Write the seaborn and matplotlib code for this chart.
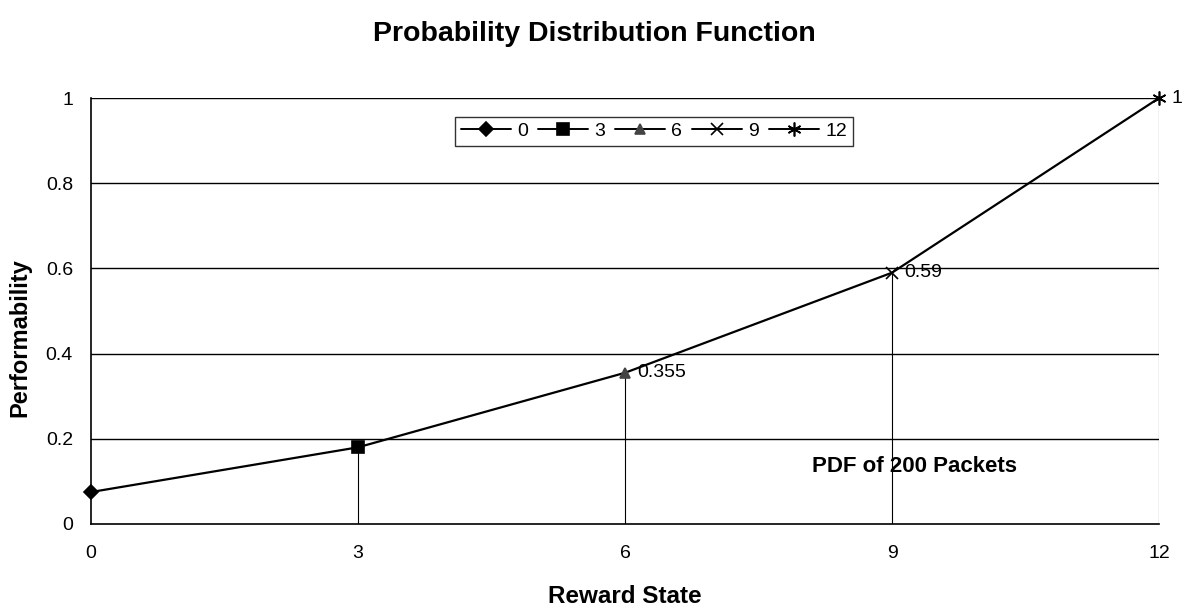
import matplotlib
matplotlib.use("Agg")
import matplotlib.pyplot as plt
import seaborn as sns
import pandas as pd
from matplotlib.lines import Line2D

reward_states = [0, 3, 6, 9, 12]
performability = [0.075, 0.18, 0.355, 0.59, 1.0]
series_labels = ["0", "3", "6", "9", "12"]
point_labels = {6: "0.355", 9: "0.59", 12: "1"}
y_ticks = [0, 0.2, 0.4, 0.6, 0.8, 1.0]
y_tick_labels = ["0", "0.2", "0.4", "0.6", "0.8", "1"]
x_ticks = [0, 3, 6, 9, 12]

sns.set_theme(style="white")
plt.rcParams['font.family'] = ['Liberation Sans', 'DejaVu Sans']
plt.rcParams['text.color'] = 'black'
plt.rcParams['axes.labelcolor'] = 'black'
plt.rcParams['xtick.color'] = 'black'
plt.rcParams['ytick.color'] = 'black'

df = pd.DataFrame({"x": reward_states, "y": performability, "series": series_labels})

fig = plt.figure(figsize=(11.88, 6.12), dpi=100)
ax = fig.add_axes([0.0766, 0.1438, 0.899, 0.696])

for yt in y_ticks[1:]:
    ax.axhline(yt, color="black", lw=1.0, zorder=0)

# drop lines
for x, y in zip(reward_states[1:], performability[1:]):
    ax.plot([x, x], [0, y], color="black", lw=0.8, zorder=1)

sns.lineplot(data=df, x="x", y="y", color="black", lw=1.6, ax=ax, zorder=2, legend=False)

markers = {"0": "D", "3": "s", "6": "^", "9": "x", "12": (6, 2, 0)}
sizes = {"0": 7, "3": 8, "6": 7, "9": 9, "12": 10}
colors = {"0": "black", "3": "black", "6": "#444444", "9": "black", "12": "black"}
handles = []
for s, x, y in zip(series_labels, reward_states, performability):
    ax.plot([x], [y], marker=markers[s], ms=sizes[s], color=colors[s],
            mew=1.2, ls="none", zorder=3, clip_on=False)
    handles.append(Line2D([0], [0], color="black", lw=1.4, marker=markers[s],
                          ms=sizes[s], mew=1.2, markerfacecolor=colors[s],
                          markeredgecolor=colors[s], label=s))

for x, y in zip(reward_states, performability):
    if x in point_labels:
        ax.annotate(point_labels[x], (x, y), xytext=(9, 0), textcoords="offset points",
                    va="center", ha="left", fontsize=14)

ax.text(8.1, 0.136, "PDF of 200 Packets", fontsize=16, fontweight="bold", va="center")

ax.set_xlim(0, 12)
ax.set_ylim(0, 1)
ax.set_xticks(x_ticks)
ax.set_xticklabels([str(v) for v in x_ticks], fontsize=14)
ax.set_yticks(y_ticks)
ax.set_yticklabels(y_tick_labels, fontsize=14)
ax.tick_params(axis="both", direction="out", length=5, width=1, colors="black", pad=8)
ax.tick_params(axis="x", pad=10)
for sp in ["top", "right"]:
    ax.spines[sp].set_visible(False)
for sp in ["left", "bottom"]:
    ax.spines[sp].set_color("black")
    ax.spines[sp].set_linewidth(1.2)
ax.set_xlabel("Reward State", fontsize=17.5, fontweight="bold", va="center")
ax.xaxis.set_label_coords(0.5, -0.17)
ax.set_ylabel("Performability", fontsize=17, fontweight="bold", va="center")
ax.yaxis.set_label_coords(-0.067, 0.437)
fig.text(0.5, 0.944, "Probability Distribution Function", fontsize=20.5, fontweight="bold",
         ha="center", va="center")

leg = ax.legend(handles=handles, loc="center", bbox_to_anchor=(0.527, 0.922), ncol=5,
                fontsize=14, frameon=True, fancybox=False, edgecolor="black",
                handlelength=2.6, handletextpad=0.3, columnspacing=0.5, borderpad=0.3)
leg.get_frame().set_linewidth(1.0)

fig.savefig("out.png", dpi=100, facecolor="white")
